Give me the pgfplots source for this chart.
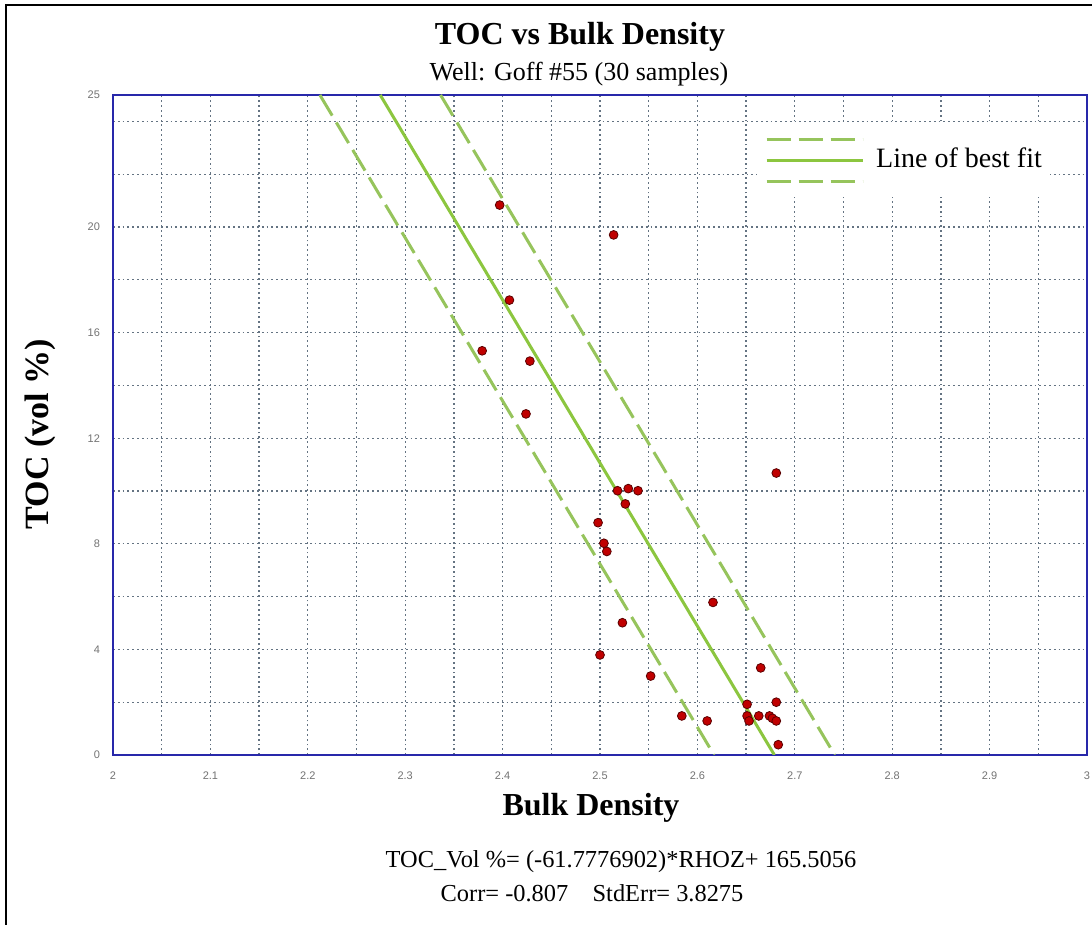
\documentclass[border=0pt]{standalone}
\usepackage{pgfplots}
\pgfplotsset{compat=1.18}
\usepackage{fontspec}
\setmainfont{Liberation Serif}
\newfontfamily\tickfont{Liberation Sans}
\definecolor{axblue}{RGB}{40,40,170}
\definecolor{gridc}{RGB}{100,115,130}
\definecolor{fitgreen}{RGB}{140,198,63}
\definecolor{bandgreen}{RGB}{150,196,92}
\definecolor{ptred}{RGB}{192,0,0}
\definecolor{ptedge}{RGB}{90,0,0}
\begin{document}
\begin{tikzpicture}
\useasboundingbox (0,0) rectangle (546pt,462.5pt);
\fill[white] (0,0) rectangle (546pt,462.5pt);
\draw[black, line width=1.2pt] (3pt,0) -- (3pt,460pt) -- (546pt,460pt);
\begin{axis}[
  at={(56.5pt,85pt)}, anchor=south west,
  scale only axis, width=487pt, height=330pt,
  xmin=2, xmax=3, ymin=0, ymax=25,
  xtick={2,2.1,...,3.01},
  xticklabels={2,2.1,2.2,2.3,2.4,2.5,2.6,2.7,2.8,2.9,3},
  minor xtick={2.05,2.15,...,3.0},
  ytick={0,4,8,12,16,20,25},
  minor ytick={2,6,10,14,18,22,24},
  grid=both,
  major grid style={gridc, line width=0.65pt, dash pattern=on 0.9pt off 1.5pt},
  minor grid style={gridc, line width=0.65pt, dash pattern=on 0.9pt off 1.5pt},
  major tick length=0pt, minor tick length=0pt,
  axis line style={axblue, line width=1.2pt},
  /pgf/number format/assume math mode=true,
  ticklabel style={font=\tickfont\fontsize{5.5}{6}\selectfont, text=black!55},
  xticklabel style={yshift=-5pt},
  yticklabel style={xshift=-3pt},
  legend style={at={(0.661,0.958)}, anchor=north west, draw=none, fill=white,
    font=\fontsize{14}{14}\selectfont, row sep=5.8pt, inner sep=4pt,
    nodes={inner sep=0pt, anchor=west}},
  legend cell align=left,
  legend image code/.code={\draw[#1] (0pt,0pt) -- (48pt,0pt);},
]
\addplot[bandgreen, line width=1.5pt, dash pattern=on 12pt off 4pt] coordinates {(2.33633,25) (2.74100,0)};
\addlegendentry{\phantom{x}}
\addplot[fitgreen, line width=1.5pt] coordinates {(2.27437,25) (2.67904,0)};
\addlegendentry{\hspace{6pt}\smash{\raisebox{-4.5pt}{Line of best fit}}}
\addplot[bandgreen, line width=1.5pt, dash pattern=on 12pt off 4pt] coordinates {(2.21242,25) (2.61709,0)};
\addlegendentry{\phantom{x}}
\addplot[only marks, mark=*, mark size=2.2pt, mark options={fill=ptred, draw=ptedge, line width=0.4pt}, forget plot] coordinates {
(2.397,20.83) (2.514,19.70) (2.407,17.23) (2.379,15.31) (2.428,14.92)
(2.424,12.92) (2.518,10.01) (2.529,10.09) (2.539,10.01) (2.526,9.51)
(2.498,8.80) (2.504,8.02) (2.507,7.71) (2.616,5.78) (2.523,5.01)
(2.500,3.79) (2.552,2.99) (2.665,3.30) (2.584,1.48) (2.610,1.29)
(2.651,1.92) (2.681,2.00) (2.651,1.48) (2.653,1.29) (2.663,1.48)
(2.674,1.48) (2.677,1.39) (2.681,1.29) (2.683,0.39) (2.681,10.68)
};
\end{axis}
\node[font=\bfseries\fontsize{16}{16}\selectfont] at (290pt,444pt) {TOC vs Bulk Density};
\node[font=\fontsize{13}{13}\selectfont] at (289.5pt,425.5pt) {Well: Goff \#55 (30 samples)};
\node[font=\bfseries\fontsize{16}{16}\selectfont] at (295.5pt,58.5pt) {Bulk Density};
\node[font=\bfseries\fontsize{17}{17}\selectfont, rotate=90] at (20pt,245.5pt) {TOC (vol \%)};
\node[font=\fontsize{12.2}{12.2}\selectfont] at (310.5pt,31.5pt) {TOC\_Vol \%= (-61.7776902)*RHOZ+ 165.5056};
\node[font=\fontsize{12.2}{12.2}\selectfont] at (296pt,16pt) {Corr= -0.807\quad StdErr= 3.8275};
\end{tikzpicture}
\end{document}
